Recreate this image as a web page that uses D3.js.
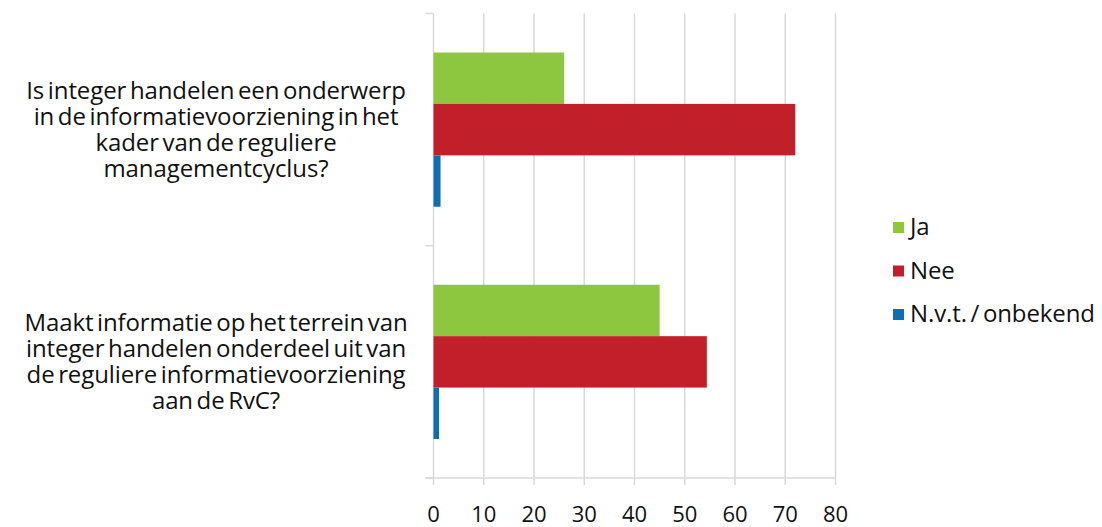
<!DOCTYPE html>
<html>
<head>
<meta charset="utf-8">
<script src="https://cdn.jsdelivr.net/npm/d3@7"></script>
<style>
  body { margin: 0; background: #fff; }
  svg text { font-family: "Open Sans", Lato, sans-serif; fill: #111; }
  .cat, .leg { letter-spacing: -0.1px; word-spacing: -2.5px; }
</style>
</head>
<body>
<svg id="chart"></svg>
<script>
// categories, each split into the lines as they appear on the chart
const categories = [
  ["Is integer handelen een onderwerp", "in de  informatievoorziening in het", "kader van de reguliere", "managementcyclus?"],
  ["Maakt informatie op het terrein van", "integer handelen onderdeel uit van", "de reguliere informatievoorziening", "aan de RvC?"]
]
const seriesNames = ["Ja", "Nee", "N.v.t. / onbekend"]
const ja = [26, 45]
const nee = [72, 54.4]
const nvt = [1.4, 1.1]
const xTicks = [0, 10, 20, 30, 40, 50, 60, 70, 80]
const colors = ["#8dc63f", "#c1202a", "#0f6db3"]

const width = 1102, height = 527
const margin = { top: 13.5, right: 266.5, bottom: 49, left: 433.5 }
const w = width - margin.left - margin.right
const h = height - margin.top - margin.bottom

const svg = d3.select("#chart").attr("width", width).attr("height", height)
const g = svg.append("g").attr("transform", `translate(${margin.left},${margin.top})`)

const x = d3.scaleLinear().domain([0, 80]).range([0, w])
const y0 = d3.scaleBand().domain(d3.range(categories.length)).range([0, h]).padding(0)
// excel style gap width 75%: bars take the middle part of each category band
const y1 = d3.scaleBand().domain(d3.range(seriesNames.length))
  .range([y0.bandwidth() * 0.168, y0.bandwidth() * 0.832]).padding(0)

// vertical gridlines, they run a bit below the axis as tick marks
g.append("g")
  .selectAll("line")
  .data(xTicks)
  .join("line")
  .attr("x1", d => x(d)).attr("x2", d => x(d))
  .attr("y1", 0).attr("y2", h + 7)
  .attr("stroke", "#d9d9d9").attr("stroke-width", 1.5)

// bottom axis line
g.append("line")
  .attr("x1", -8).attr("x2", w).attr("y1", h).attr("y2", h)
  .attr("stroke", "#d9d9d9").attr("stroke-width", 1.5)

// category separators on the left
g.append("g")
  .selectAll("line")
  .data(d3.range(categories.length + 1))
  .join("line")
  .attr("x1", -8).attr("x2", 0)
  .attr("y1", d => d * y0.bandwidth()).attr("y2", d => d * y0.bandwidth())
  .attr("stroke", "#d9d9d9").attr("stroke-width", 1.5)

// bars
const values = [ja, nee, nvt]
values.forEach((vals, si) => {
  g.append("g")
    .selectAll("rect")
    .data(vals)
    .join("rect")
    .attr("x", x(0))
    .attr("y", (d, i) => y0(i) + y1(si))
    .attr("width", d => x(d) - x(0))
    .attr("height", y1.bandwidth())
    .attr("fill", colors[si])
})

// x tick labels
g.append("g")
  .selectAll("text")
  .data(xTicks)
  .join("text")
  .attr("x", d => x(d))
  .attr("y", h + 44)
  .attr("text-anchor", "middle")
  .style("font-size", "22px")
  .text(d => d)

// category labels
const lineH = 26
categories.forEach((lines, i) => {
  const cy = y0(i) + y0.bandwidth() / 2
  const t = svg.append("text")
    .attr("class", "cat")
    .attr("text-anchor", "middle")
    .style("font-size", "24px")
  lines.forEach((ln, j) => {
    t.append("tspan")
      .attr("x", 216)
      .attr("y", margin.top + cy + (j - (lines.length - 1) / 2) * lineH + 8)
      .text(ln)
  })
})

// legend
const legend = svg.append("g").attr("transform", "translate(893,222)")
seriesNames.forEach((name, i) => {
  legend.append("rect")
    .attr("x", 0).attr("y", i * 43.5)
    .attr("width", 11).attr("height", 11)
    .attr("fill", colors[i])
  legend.append("text")
    .attr("class", "leg")
    .attr("x", 17).attr("y", i * 43.5 + 13)
    .style("font-size", "24px")
    .text(name)
})
</script>
</body>
</html>
